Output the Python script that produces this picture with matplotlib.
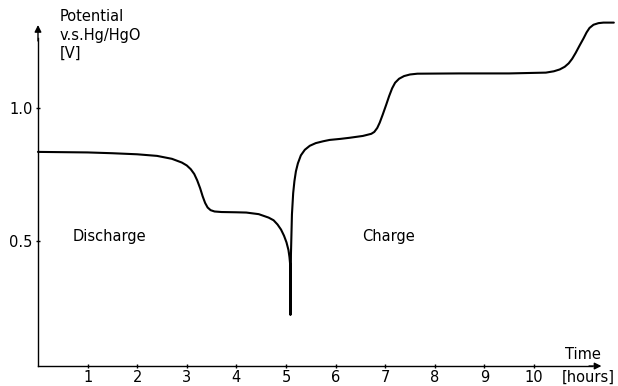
import matplotlib
matplotlib.use("Agg")
import matplotlib.pyplot as plt

# Electrode potential vs. Hg/HgO during discharge followed by charge
time_h = [0.0, 0.5, 1.0, 1.5, 2.0, 2.4, 2.7, 2.9, 3.0, 3.08, 3.15, 3.21, 3.27,
          3.32, 3.37, 3.42, 3.48, 3.56, 3.7, 4.0, 4.2, 4.45, 4.65, 4.75, 4.83,
          4.9, 4.96, 5.01, 5.05, 5.07, 5.085, 5.09,
          5.10, 5.12, 5.145, 5.17, 5.2, 5.24, 5.30, 5.38, 5.48, 5.6, 5.75,
          5.88, 6.1, 6.28, 6.55, 6.72, 6.78, 6.84, 6.89, 6.95, 7.02, 7.08,
          7.14, 7.2, 7.28, 7.38, 7.5, 7.65, 8.5, 9.5, 10.24, 10.4, 10.52,
          10.62, 10.7, 10.77, 10.84, 10.92, 11.0, 11.06, 11.12, 11.2, 11.3,
          11.4, 11.61]
potential_v = [0.835, 0.834, 0.833, 0.830, 0.826, 0.820, 0.809, 0.795, 0.784,
               0.770, 0.752, 0.728, 0.698, 0.668, 0.643, 0.626, 0.616, 0.611,
               0.609, 0.608, 0.607, 0.601, 0.588, 0.578, 0.562, 0.543, 0.520,
               0.495, 0.466, 0.440, 0.410, 0.222,
               0.450, 0.600, 0.680, 0.725, 0.762, 0.792, 0.822, 0.843, 0.858,
               0.868, 0.875, 0.880, 0.884, 0.888, 0.895, 0.903, 0.910, 0.925,
               0.945, 0.975, 1.012, 1.045, 1.074, 1.095, 1.110, 1.120, 1.126,
               1.129, 1.130, 1.130, 1.133, 1.138, 1.145, 1.155, 1.168, 1.185,
               1.207, 1.235, 1.262, 1.284, 1.301, 1.313, 1.319, 1.321, 1.321]

x_ticks = [1, 2, 3, 4, 5, 6, 7, 8, 9, 10]
y_ticks = [0.5, 1.0]
y_tick_labels = ["0.5", "1.0"]

axis_y = 0.03      # potential at which the time axis is drawn
x_arrow = 11.36    # end of the time axis
y_arrow = 1.312    # end of the potential axis

fig = plt.figure(figsize=(6.18, 3.86), dpi=100)
ax = fig.add_axes([0, 0, 1, 1])
ax.set_xlim(-0.766, 11.694)
ax.set_ylim(-0.045, 1.406)
ax.patch.set_visible(False)

ax.plot(time_h, potential_v, color="black", lw=1.5,
        solid_joinstyle="round", solid_capstyle="round")

for side in ("top", "right"):
    ax.spines[side].set_visible(False)
ax.spines["left"].set_position(("data", 0))
ax.spines["bottom"].set_position(("data", axis_y))
ax.spines["left"].set_bounds(axis_y, y_arrow - 0.05)
ax.spines["bottom"].set_bounds(0, x_arrow - 0.2)
for side in ("left", "bottom"):
    ax.spines[side].set_linewidth(1.0)

ax.set_xticks(x_ticks)
ax.set_xticklabels([str(t) for t in x_ticks])
ax.set_yticks(y_ticks)
ax.set_yticklabels(y_tick_labels)
ax.tick_params(axis="both", direction="inout", length=3, width=1,
               labelsize=10.5, colors="black")
ax.tick_params(axis="x", pad=1.5)
ax.tick_params(axis="y", pad=2.5)

arrow = dict(arrowstyle="-|>", color="black", lw=1.0, mutation_scale=10,
             shrinkA=0, shrinkB=0)
ax.annotate("", xy=(0, y_arrow), xytext=(0, y_arrow - 0.06), arrowprops=arrow)
ax.annotate("", xy=(x_arrow, axis_y), xytext=(x_arrow - 0.25, axis_y),
            arrowprops=arrow)

ax.text(0.44, 1.372, "Potential\nv.s.Hg/HgO\n[V]", ha="left", va="top",
        fontsize=10.5, linespacing=1.3)
ax.text(0.70, 0.516, "Discharge", ha="left", va="center", fontsize=10.5)
ax.text(6.54, 0.516, "Charge", ha="left", va="center", fontsize=10.5)
ax.text(10.63, 0.075, "Time", ha="left", va="center", fontsize=10.5)
ax.text(10.56, 0.015, "[hours]", ha="left", va="top", fontsize=10.5)

fig.savefig("out.png", dpi=100, facecolor="white")
